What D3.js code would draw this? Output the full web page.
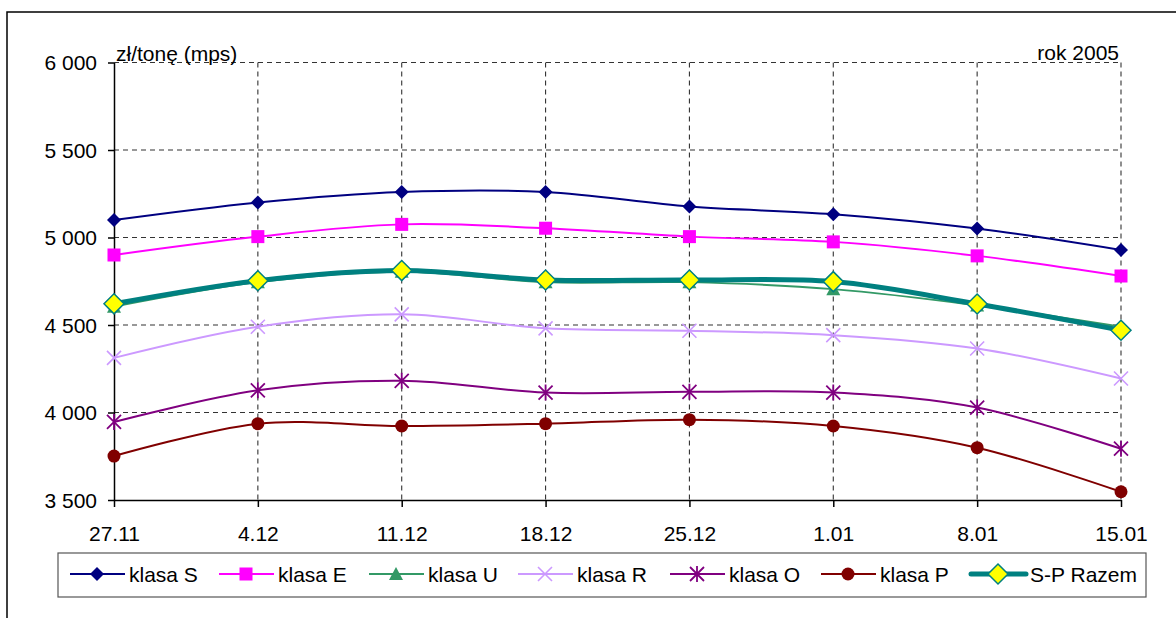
<!DOCTYPE html>
<html lang="pl">
<head>
<meta charset="utf-8">
<title>Ceny - rok 2005</title>
<script src="https://d3js.org/d3.v7.min.js"></script>
<style>
  body { margin: 0; background: #fff; }
  text { font-family: "Liberation Sans", Arial, sans-serif; fill: #000; }
</style>
</head>
<body>
<div id="chart"></div>
<script>
// Data
var categories = ["27.11", "4.12", "11.12", "18.12", "25.12", "1.01", "8.01", "15.01"];
var klasaS = [5100, 5200, 5260, 5260, 5177, 5133, 5051, 4929];
var klasaE = [4900, 5005, 5075, 5053, 5005, 4975, 4895, 4780];
var klasaU = [4605, 4745, 4805, 4745, 4745, 4705, 4612, 4490];
var klasaR = [4312, 4490, 4561, 4481, 4467, 4442, 4366, 4194];
var klasaO = [3946, 4127, 4181, 4114, 4118, 4114, 4028, 3793];
var klasaP = [3751, 3936, 3923, 3936, 3959, 3923, 3799, 3547];
var razem  = [4621, 4753, 4811, 4757, 4757, 4748, 4620, 4470];
var yTicks = [3500, 4000, 4500, 5000, 5500, 6000];

var series = [
  {name: "klasa S", values: klasaS, color: "#000080", width: 2, marker: "diamond"},
  {name: "klasa E", values: klasaE, color: "#FF00FF", width: 2, marker: "square"},
  {name: "klasa U", values: klasaU, color: "#339966", width: 2, marker: "triangle"},
  {name: "klasa R", values: klasaR, color: "#CC99FF", width: 2, marker: "x"},
  {name: "klasa O", values: klasaO, color: "#800080", width: 2, marker: "star"},
  {name: "klasa P", values: klasaP, color: "#800000", width: 2, marker: "circle"},
  {name: "S-P Razem", values: razem, color: "#008080", width: 5, marker: "bigdiamond"}
];

var W = 1176, H = 618;
var svg = d3.select("#chart").append("svg").attr("width", W).attr("height", H);

// outer chart border
svg.append("rect").attr("x", 7).attr("y", 12).attr("width", 1200).attr("height", 700)
  .attr("fill", "#fff").attr("stroke", "#000").attr("stroke-width", 1.5);

var x = d3.scalePoint().domain(categories).range([114, 1121]);
var y = d3.scaleLinear().domain([3500, 6000]).range([500, 62.5]);
var fmt = d3.formatLocale({decimal: ",", thousands: " ", grouping: [3], currency: ["", ""]}).format(",");

// grid
var grid = svg.append("g").attr("stroke", "#333").attr("stroke-width", 1.1).attr("stroke-dasharray", "5,4");
grid.selectAll("line.h").data(yTicks.slice(1)).enter().append("line")
  .attr("x1", 114).attr("x2", 1121).attr("y1", function(d) { return y(d); }).attr("y2", function(d) { return y(d); });
grid.selectAll("line.v").data(categories.slice(1)).enter().append("line")
  .attr("x1", function(d) { return x(d); }).attr("x2", function(d) { return x(d); })
  .attr("y1", 62.5).attr("y2", 500);

// axes
var yAxis = svg.append("g").attr("transform", "translate(114,0)")
  .call(d3.axisLeft(y).tickValues(yTicks).tickFormat(fmt).tickSize(6).tickPadding(11).tickSizeOuter(0));
var xAxis = svg.append("g").attr("transform", "translate(0,500)")
  .call(d3.axisBottom(x).tickSize(7).tickPadding(19).tickSizeOuter(0));
[yAxis, xAxis].forEach(function(a) {
  a.select(".domain").attr("stroke", "#000").attr("stroke-width", 1.5);
  a.selectAll(".tick line").attr("stroke", "#000").attr("stroke-width", 1.5);
  a.selectAll("text").attr("font-size", 21).attr("fill", "#000")
    .attr("font-family", "Liberation Sans, Arial, sans-serif");
});
yAxis.selectAll("text").attr("dy", "0.35em");

svg.append("text").attr("x", 116).attr("y", 61).attr("font-size", 21).text("zł/tonę (mps)");
svg.append("text").attr("x", 1119).attr("y", 60).attr("font-size", 21).attr("text-anchor", "end").text("rok 2005");

// markers
function drawMarker(g, type, color, cx, cy) {
  if (type === "diamond") {
    g.append("path").attr("d", "M0,-7L7,0L0,7L-7,0Z").attr("transform", "translate(" + cx + "," + cy + ")").attr("fill", color);
  } else if (type === "square") {
    g.append("rect").attr("x", cx - 6.5).attr("y", cy - 6.5).attr("width", 13).attr("height", 13).attr("fill", color);
  } else if (type === "triangle") {
    g.append("path").attr("d", "M0,-7L7,6L-7,6Z").attr("transform", "translate(" + cx + "," + cy + ")").attr("fill", color);
  } else if (type === "x") {
    g.append("path").attr("d", "M-7,-7L7,7M-7,7L7,-7").attr("transform", "translate(" + cx + "," + cy + ")")
      .attr("stroke", color).attr("stroke-width", 1.6).attr("fill", "none");
  } else if (type === "star") {
    g.append("path").attr("d", "M-7,-7L7,7M-7,7L7,-7M0,-8L0,8").attr("transform", "translate(" + cx + "," + cy + ")")
      .attr("stroke", color).attr("stroke-width", 1.8).attr("fill", "none");
  } else if (type === "circle") {
    g.append("circle").attr("cx", cx).attr("cy", cy).attr("r", 6.5).attr("fill", color);
  } else if (type === "bigdiamond") {
    g.append("path").attr("d", "M0,-10L10,0L0,10L-10,0Z").attr("transform", "translate(" + cx + "," + cy + ")")
      .attr("fill", "#FFFF00").attr("stroke", color).attr("stroke-width", 1.5);
  }
}

var line = d3.line()
  .x(function(d, i) { return x(categories[i]); })
  .y(function(d) { return y(d); })
  .curve(d3.curveCatmullRom.alpha(0));

series.forEach(function(s) {
  var g = svg.append("g");
  g.append("path").attr("d", line(s.values)).attr("fill", "none")
    .attr("stroke", s.color).attr("stroke-width", s.width).attr("stroke-linejoin", "round");
  s.values.forEach(function(v, i) {
    drawMarker(g, s.marker, s.color, x(categories[i]), y(v));
  });
});

// legend
var legend = svg.append("g");
legend.append("rect").attr("x", 58).attr("y", 553).attr("width", 1088).attr("height", 44)
  .attr("fill", "#fff").attr("stroke", "#555").attr("stroke-width", 1.2);
var legendX = [70, 219, 369, 518, 670, 821, 971];
series.forEach(function(s, i) {
  var g = legend.append("g");
  var lx = legendX[i];
  g.append("line").attr("x1", lx).attr("x2", lx + 55).attr("y1", 574).attr("y2", 574)
    .attr("stroke", s.color).attr("stroke-width", s.width).attr("stroke-linecap", s.width > 3 ? "round" : "butt");
  drawMarker(g, s.marker, s.color, lx + 27, 574);
  g.append("text").attr("x", lx + 59).attr("y", 582).attr("font-size", 21).text(s.name);
});
</script>
</body>
</html>
